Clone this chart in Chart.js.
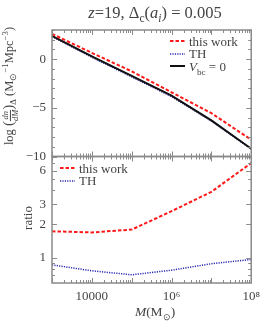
<!DOCTYPE html>
<html>
<head>
<meta charset="utf-8">
<script src="https://cdn.jsdelivr.net/npm/chart.js@4.4.0/dist/chart.umd.min.js"></script>
<style>
  html, body { margin: 0; padding: 0; background: #fff; }
  #wrap { position: relative; width: 266px; height: 322px; font-family: "Liberation Serif", serif; color: #444; }
  #wrap canvas { position: absolute; left: 0; top: 0; }
  .txt { position: absolute; white-space: nowrap; line-height: 1; }
  .title { left: 155px; top: 5px; transform: translateX(-50%); font-size: 16.5px; }
  .ytitle { left: 10px; top: 86px; transform: translate(-50%, -50%) rotate(-90deg); font-size: 12.5px; }
  .rtitle { left: 27px; top: 218px; transform: translate(-50%, -50%) rotate(-90deg); font-size: 13px; }
  .xtitle { left: 155px; top: 305px; transform: translateX(-50%); font-size: 13.5px; }
  .frac { display: inline-flex; flex-direction: column; vertical-align: middle; font-size: 8.5px; line-height: 1; text-align: center; font-style: italic; }
  .frac span:first-child { border-bottom: 0.8px solid #444; padding: 0 1px; }
  .legend { position: absolute; font-size: 13px; line-height: 1; }
  .legend div { height: 12.5px; display: flex; align-items: center; white-space: nowrap; }
  .legend svg { margin-right: 4px; }
  sub, sup { font-size: 70%; line-height: 0; }
</style>
</head>
<body>
<div id="wrap">
  <canvas id="hmf" width="266" height="322"></canvas>
  <div class="txt title"><i>z</i>=19, Δ<sub>c</sub>(<i>a<sub>i</sub></i>) = 0.005</div>
  <div class="txt ytitle">log <span style="font-size:15px">(</span><span class="frac"><span>dn</span><span>dM</span></span><span style="font-size:15px">)</span><sub>Δ</sub> (M<sub>⊙</sub><sup>−1</sup>Mpc<sup>−3</sup>)</div>
  <div class="txt rtitle">ratio</div>
  <div class="txt xtitle"><i>M</i>(M<sub>⊙</sub>)</div>
  <div class="legend" style="left:170px; top:35px;">
    <div><svg width="15" height="4"><line x1="0" y1="2" x2="15" y2="2" stroke="#ff1a1a" stroke-width="2" stroke-dasharray="3.5,2"/></svg><span>this work</span></div>
    <div><svg width="15" height="4"><line x1="0" y1="2" x2="15" y2="2" stroke="#2b2bb0" stroke-width="1.5" stroke-dasharray="1.2,1.2"/></svg><span>TH</span></div>
    <div><svg width="15" height="4"><line x1="0" y1="2" x2="15" y2="2" stroke="#111" stroke-width="2"/></svg><span><i>V</i><sub>bc</sub> = 0</span></div>
  </div>
  <div class="legend" style="left:60px; top:162px;">
    <div><svg width="15" height="4"><line x1="0" y1="2" x2="15" y2="2" stroke="#ff1a1a" stroke-width="2" stroke-dasharray="3.5,2"/></svg><span>this work</span></div>
    <div><svg width="15" height="4"><line x1="0" y1="2" x2="15" y2="2" stroke="#2b2bb0" stroke-width="1.5" stroke-dasharray="1.2,1.2"/></svg><span>TH</span></div>
  </div>
</div>
<script>
// halo mass (M_sun), one point per decade
const MASS = [1e3, 1e4, 1e5, 1e6, 1e7, 1e8];

// top panel: log(dn/dM)
const HMF_THIS_WORK = [2.6, 0.65, -1.25, -3.4, -5.55, -8.28];
const HMF_TH = [2.33, 0.2, -1.82, -3.84, -6.36, -9.23];
const HMF_VBC0 = [2.4, 0.3, -1.72, -3.74, -6.29, -9.2];

// bottom panel: ratio
const RATIO_THIS_WORK = [1.73, 1.69, 1.79, 2.61, 3.88, 7.0];
const RATIO_TH = [0.87, 0.77, 0.71, 0.78, 0.89, 0.97];

// tick positions / labels
const X_TICKS = [];
for (let k = 3; k < 8; k++) for (let m = 1; m < 10; m++) X_TICKS.push(m * 10 ** k);
X_TICKS.push(1e8);
const X_LABELS = { 10000: '10000', 1000000: '10⁶', 100000000: '10⁸' };
const RATIO_TICKS = [0.7, 0.8, 0.9, 1, 2, 3, 4, 5, 6, 7, 8];
const RATIO_LABELS = [1, 2, 3, 6];

const COLORS = { red: '#ff1a1a', blue: '#2b2bb0', black: '#111', frame: '#8a8a8a', text: '#444' };

const pts = ys => MASS.map((m, i) => ({ x: m, y: ys[i] }));
const isDecade = v => Math.abs(Math.log10(v) - Math.round(Math.log10(v))) < 1e-9;

// LaTeX-ish frame: box round each panel, inward ticks on all sides
const frameTicks = {
  id: 'frameTicks',
  afterDatasetsDraw(chart) {
    const { ctx, chartArea: a, scales } = chart;
    const x = scales.x, yt = scales.y, yb = scales.ratio;
    ctx.save();
    ctx.strokeStyle = COLORS.frame;
    ctx.lineWidth = 1;
    ctx.beginPath();
    X_TICKS.forEach(v => {
      const px = Math.round(x.getPixelForValue(v)) + 0.5;
      const len = isDecade(v) ? 5 : 3;
      ctx.moveTo(px, yt.top); ctx.lineTo(px, yt.top + len);
      ctx.moveTo(px, yt.bottom - len); ctx.lineTo(px, yt.bottom + len);
      ctx.moveTo(px, yb.bottom); ctx.lineTo(px, yb.bottom - len);
    });
    for (let v = -10; v <= 3; v++) {
      const py = Math.round(yt.getPixelForValue(v)) + 0.5;
      const len = v % 5 === 0 ? 5 : 3;
      ctx.moveTo(a.left, py); ctx.lineTo(a.left + len, py);
      ctx.moveTo(a.right, py); ctx.lineTo(a.right - len, py);
    }
    RATIO_TICKS.forEach(v => {
      const py = Math.round(yb.getPixelForValue(v)) + 0.5;
      const len = RATIO_LABELS.includes(v) ? 5 : 3;
      ctx.moveTo(a.left, py); ctx.lineTo(a.left + len, py);
      ctx.moveTo(a.right, py); ctx.lineTo(a.right - len, py);
    });
    ctx.stroke();
    ctx.lineWidth = 1.5;
    ctx.strokeRect(a.left, yt.top, a.right - a.left, yt.bottom - yt.top);
    ctx.strokeRect(a.left, yb.top, a.right - a.left, yb.bottom - yb.top);
    ctx.restore();
  }
};

const tickFont = { family: '"Liberation Serif", serif', size: 13 };

new Chart(document.getElementById('hmf'), {
  type: 'line',
  data: {
    datasets: [
      { label: 'V_bc = 0', data: pts(HMF_VBC0), yAxisID: 'y', borderColor: COLORS.black, borderWidth: 2, order: 1 },
      { label: 'TH', data: pts(HMF_TH), yAxisID: 'y', borderColor: COLORS.blue, borderWidth: 1.5, borderDash: [1.2, 1.2], order: 2 },
      { label: 'this work', data: pts(HMF_THIS_WORK), yAxisID: 'y', borderColor: COLORS.red, borderWidth: 2, borderDash: [3.5, 2], order: 0 },
      { label: 'this work', data: pts(RATIO_THIS_WORK), yAxisID: 'ratio', borderColor: COLORS.red, borderWidth: 2, borderDash: [3.5, 2] },
      { label: 'TH', data: pts(RATIO_TH), yAxisID: 'ratio', borderColor: COLORS.blue, borderWidth: 1.5, borderDash: [1.2, 1.2] },
    ],
  },
  options: {
    responsive: false, animation: false,
    elements: { point: { radius: 0 }, line: { tension: 0, fill: false } },
    layout: { padding: { top: 30, right: 8, left: 0, bottom: 0 } },
    plugins: { legend: { display: false }, tooltip: { enabled: false } },
    scales: {
      x: {
        type: 'logarithmic', min: 1e3, max: 1e8,
        grid: { display: false, drawTicks: false }, border: { display: false },
        afterBuildTicks: s => { s.ticks = X_TICKS.map(v => ({ value: v })); },
        afterFit: s => { s.height = 39; },
        ticks: { autoSkip: false, maxRotation: 0, padding: 6, color: COLORS.text, font: tickFont,
          callback: v => X_LABELS[v] || '' },
      },
      ratio: {
        type: 'logarithmic', min: 0.63, max: 8, position: 'left', stack: 'panels', stackWeight: 1,
        grid: { display: false, drawTicks: false }, border: { display: false },
        afterBuildTicks: s => { s.ticks = RATIO_TICKS.map(v => ({ value: v })); },
        afterFit: s => { s.width = 52; },
        ticks: { autoSkip: false, padding: 6, color: COLORS.text, font: tickFont,
          callback: v => (RATIO_LABELS.includes(v) ? String(v) : '') },
      },
      y: {
        type: 'linear', min: -10, max: 3, position: 'left', stack: 'panels', stackWeight: 1,
        grid: { display: false, drawTicks: false }, border: { display: false },
        afterFit: s => { s.width = 52; },
        ticks: { stepSize: 1, autoSkip: false, padding: 6, color: COLORS.text, font: tickFont,
          callback: v => (v % 5 === 0 ? (v < 0 ? '−' + (-v) : String(v)) : '') },
      },
    },
  },
  plugins: [frameTicks],
});
</script>
</body>
</html>
